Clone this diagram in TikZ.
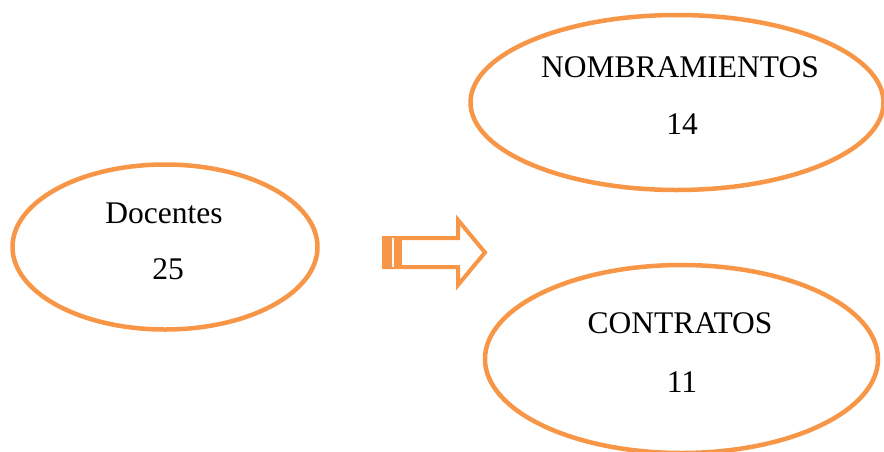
\documentclass[tikz,border=0pt]{standalone}
\usepackage{fontspec}
\setmainfont{Liberation Serif}
\usetikzlibrary{shapes.geometric}
\definecolor{accorange}{HTML}{F79646}
\tikzset{
  oval/.style={ellipse, draw=accorange, line width=4.5pt, inner sep=0pt},
  lbl/.style={anchor=base, inner sep=0pt, font=\fontsize{31.5}{36}\selectfont},
}
\begin{document}
\begin{tikzpicture}[x=1pt, y=-1pt]
\useasboundingbox (0,0) rectangle (884,451);
\node[oval, minimum width=305pt, minimum height=165pt] (doc) at (165,247) {};
\node[oval, minimum width=413pt, minimum height=175pt] (nom) at (677,102.5) {};
\node[oval, minimum width=393pt, minimum height=188pt] (con) at (681.5,359) {};
\node[lbl] (tdoc) at (164,223) {Docentes};
\node[lbl] (ndoc) at (168,279) {25};
\node[lbl] (tnom) at (680,77) {NOMBRAMIENTOS};
\node[lbl] (nnom) at (682,134) {14};
\node[lbl] (tcon) at (680,333) {CONTRATOS};
\node[lbl] (ncon) at (682,392) {11};
% block arrow
\draw[accorange, line width=4pt, miter limit=10]
  (384,238) -- (458,238) -- (458,220) -- (485,252.5) -- (458,285) -- (458,267) -- (384,267) -- cycle;
\fill[accorange] (382,236) rectangle (402,269);
\fill[white] (392.4,238) rectangle (394.2,267);
\end{tikzpicture}
\end{document}
